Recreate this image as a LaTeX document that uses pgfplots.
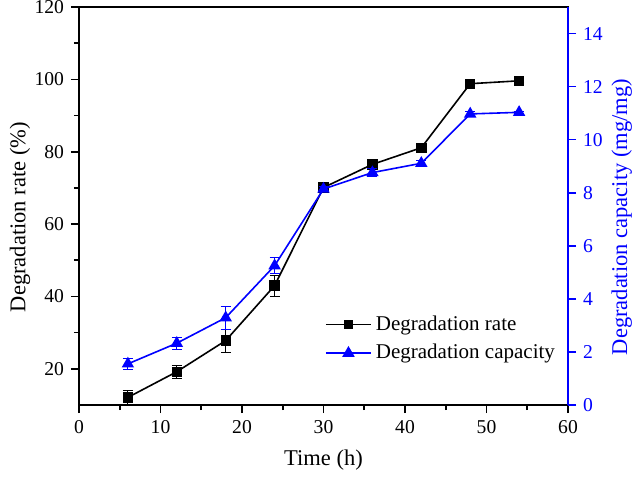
\documentclass[border=0pt]{standalone}
\usepackage{fontspec}
\setmainfont{Liberation Serif}
\usepackage{pgfplots}
\usepackage{pgfplotstable}
\pgfplotsset{compat=1.18}
\pgfplotstableread{
t v e
6 12.1 2.0
12 19.2 1.8
18 27.8 3.2
24 43.0 2.9
30 70.1 0.8
36 76.5 1.3
42 81.1 0.5
48 98.8 0.5
54 99.6 0.5
}\ratedata
\pgfplotstableread{
t v e
6 1.55 0.22
12 2.33 0.23
18 3.29 0.43
24 5.25 0.30
30 8.14 0.10
36 8.76 0.15
42 9.11 0.10
48 10.97 0.10
54 11.03 0.05
}\capdata
\begin{document}
\begin{tikzpicture}
\path[use as bounding box] (0,0) rectangle (317bp,238.5bp);
\pgfplotsset{
  every axis/.append style={
    scale only axis, width=244.5bp, height=199bp,
    at={(39.5bp,36bp)}, anchor=south west,
    xmin=0, xmax=60,
    /pgf/number format/assume math mode=true,
    tick label style={font=\fontsize{9.8bp}{11bp}\selectfont},
    label style={font=\fontsize{11.25bp}{13bp}\selectfont},
    tick align=outside,
    major tick length=4bp, minor tick length=2.5bp,
    axis line style={line width=0.8bp},
    every tick/.style={line width=0.8bp},
  }
}
\begin{axis}[
  ymin=10, ymax=120,
  xtick={0,10,...,60}, minor xtick={5,15,...,55},
  ytick={20,40,...,120}, minor ytick={30,50,...,110},
  xtick pos=bottom, ytick pos=left,
  xlabel={Time (h)},
  ylabel={Degradation rate (\%)},
  xlabel style={at={(axis description cs:0.5,-0.0955)}, anchor=north},
  ylabel style={at={(axis description cs:-0.1207,0.472)}, anchor=center},
  error bars/error bar style={line width=0.5bp, black},
  error bars/error mark options={rotate=90, mark size=2.5bp, line width=0.5bp, black},
]
\addplot[black, line width=0.8bp, mark=square*, mark size=2.2bp,
  error bars/.cd, y dir=both, y explicit]
  table[x=t, y=v, y error=e] {\ratedata};
\end{axis}
\begin{axis}[
  ymin=0, ymax=15,
  axis x line=none,
  axis y line*=right,
  ytick={0,2,...,14},
  y axis line style={blue, line width=0.8bp},
  ytick style={blue},
  yticklabel style={blue},
  ylabel={Degradation capacity (mg/mg)},
  ylabel style={blue, at={(axis description cs:1.110,0.472)}, anchor=center, rotate=0},
  legend style={at={(axis description cs:0.49,0.245)}, anchor=north west, draw=none, fill=none,
    font=\fontsize{10.5bp}{12bp}\selectfont, row sep=1.5bp,
    /tikz/every even column/.append style={column sep=0pt}},
  legend cell align=left,
  legend image code/.code={\draw[mark repeat=2,mark phase=2] plot coordinates {(0cm,0cm)(0.4cm,0cm)(0.8cm,0cm)};},
  error bars/error bar style={line width=0.5bp, blue},
  error bars/error mark options={rotate=90, mark size=2.5bp, line width=0.5bp, blue},
]
\addlegendimage{black, line width=0.8bp, mark=square*, mark size=1.7bp}
\addlegendentry{Degradation rate}
\addplot[blue, line width=0.8bp, mark=triangle*, mark size=2.8bp,
  error bars/.cd, y dir=both, y explicit]
  table[x=t, y=v, y error=e] {\capdata};
\addlegendentry{Degradation capacity}
\end{axis}
\end{tikzpicture}
\end{document}
